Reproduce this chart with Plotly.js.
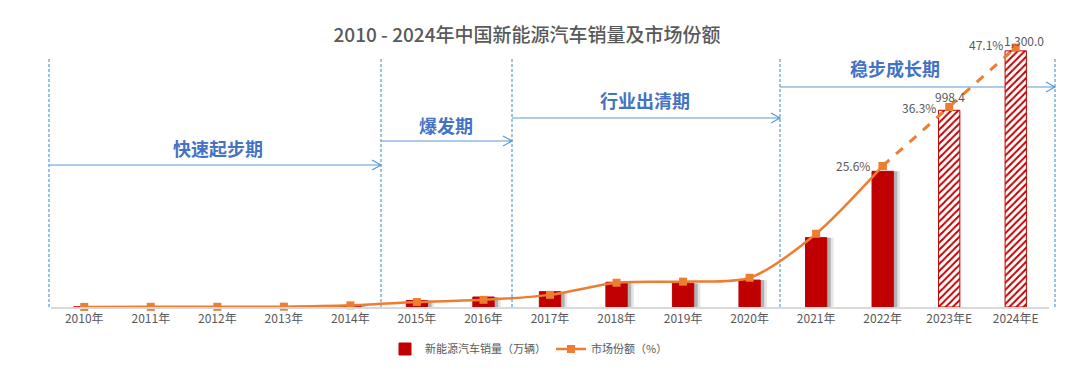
<!DOCTYPE html>
<html>
<head>
<meta charset="utf-8">
<script src="https://cdn.plot.ly/plotly-3.0.1.min.js"></script>
<style>html,body{margin:0;padding:0;background:#fff;}#chart{width:1080px;height:379px;}</style>
</head>
<body>
<div id="chart"></div>
<script>
// ---- data ----
const years = ['2010年','2011年','2012年','2013年','2014年','2015年','2016年','2017年','2018年','2019年','2020年','2021年','2022年','2023年E','2024年E'];
const sales = [0.5, 0.8, 1.3, 1.8, 7.5, 33.1, 50.7, 77.7, 125.6, 120.6, 136.7, 352.1, 688.7, 998.4, 1300.0];
const share = [0.02, 0.03, 0.04, 0.06, 0.3, 0.9, 1.3, 2.2, 4.4, 4.6, 5.3, 13.3, 25.6, 36.3, 47.1];
const isEstimate = [false,false,false,false,false,false,false,false,false,false,false,false,false,true,true];
const phaseNames = ['快速起步期', '爆发期', '行业出清期', '稳步成长期'];
const seriesNames = ['新能源汽车销量（万辆）', '市场份额（%）'];
const chartTitle = '2010 - 2024年中国新能源汽车销量及市场份额';

// ---- layout helpers (pixel geometry) ----
const W = 1080, H = 379;
const mL = 51, mR = 31, mT = 42, mB = 72;
const pw = W - mL - mR, ph = H - mT - mB;
const px2x = p => (p - mL) / pw;
const py2y = p => (H - mB - p) / ph;

const RED = '#C00000', ORANGE = '#ED7D31', BLUE = '#4472C4', LBLUE = '#5B9BD5', GREY = '#595959';
const FONT = '"Noto Sans CJK SC", "Noto Sans", sans-serif';

const lastActual = isEstimate.indexOf(true) - 1;

const shadowVals = sales.map((v, i) => isEstimate[i] ? null : v);
const solidShare = share.map((v, i) => i <= lastActual ? v : null);
const dashShare = share.map((v, i) => i >= lastActual ? v : null);

const traces = [
  {type: 'bar', x: years, y: shadowVals, yaxis: 'y', width: 0.3, offset: -0.04,
   marker: {color: 'rgba(0,0,0,0.10)'}, showlegend: false, hoverinfo: 'skip'},
  {type: 'bar', x: years, y: shadowVals, yaxis: 'y', width: 0.32, offset: -0.10,
   marker: {color: 'rgba(0,0,0,0.22)'}, showlegend: false, hoverinfo: 'skip'},
  {type: 'bar', x: years, y: sales, yaxis: 'y', name: seriesNames[0], width: 0.32, offset: -0.16,
   marker: {color: RED, line: {color: RED, width: 1},
     pattern: {shape: isEstimate.map(e => e ? '/' : ''), fgcolor: RED, bgcolor: '#ffffff', size: 5, solidity: 0.4, fillmode: 'replace'}}},
  {type: 'scatter', x: years, y: solidShare, yaxis: 'y2', name: seriesNames[1], mode: 'lines+markers',
   line: {color: ORANGE, width: 2.5, shape: 'spline', smoothing: 0.8}, connectgaps: false,
   marker: {symbol: 'square', size: 8, color: ORANGE}, cliponaxis: false},
  {type: 'scatter', x: years, y: dashShare, yaxis: 'y2', mode: 'lines+markers', showlegend: false,
   line: {color: ORANGE, width: 3, dash: 'dash'},
   marker: {symbol: 'square', size: 8, color: ORANGE}, cliponaxis: false}
];

// phase geometry (pixels)
const vlines = [49, 381, 512, 780, 1055];
const arrowY = [165, 141, 118, 87];
const labelY = [148, 125, 100, 68];
const labelX = [218, 446, 645, 895];

const shapes = [];
vlines.forEach(p => {
  shapes.push({type: 'line', xref: 'paper', yref: 'paper', x0: px2x(p), x1: px2x(p), y0: py2y(307), y1: py2y(57),
    line: {color: LBLUE, width: 1.2, dash: '3px,2px'}, layer: 'below'});
});
const annotations = [];
phaseNames.forEach((n, i) => {
  const x0 = px2x(vlines[i]), x1 = px2x(vlines[i + 1]), y = py2y(arrowY[i]);
  const dx = 9 / pw, dy = 5 / ph;
  shapes.push({type: 'path', xref: 'paper', yref: 'paper',
    path: `M ${x0},${y} L ${x1},${y} M ${x1 - dx},${y + dy} L ${x1},${y} L ${x1 - dx},${y - dy}`,
    line: {color: LBLUE, width: 1.2}, layer: 'below'});
  annotations.push({xref: 'paper', yref: 'paper', x: px2x(labelX[i]), y: py2y(labelY[i]), text: n, showarrow: false,
    xanchor: 'center', yanchor: 'middle', font: {family: FONT, size: 18, color: BLUE, weight: 'bold'}});
});

// value labels: estimated bar values, and share labels from last actual year on
const labelFont = {family: FONT, size: 12, color: GREY};
let estCount = 0;
years.forEach((yr, i) => {
  if (isEstimate[i]) {
    annotations.push({xref: 'x', yref: 'y', x: yr, y: sales[i], showarrow: false,
      text: sales[i].toLocaleString('en-US', {minimumFractionDigits: 1, maximumFractionDigits: 1}),
      xanchor: 'center', yanchor: 'bottom', xshift: estCount === 0 ? 1 : 8, yshift: estCount === 0 ? 3 : 0, font: labelFont});
    estCount++;
  }
  if (i >= lastActual) {
    annotations.push({xref: 'x', yref: 'y2', x: yr, y: share[i], showarrow: false,
      text: share[i].toFixed(1) + '%', xanchor: 'right', yanchor: 'middle', xshift: -11,
      yshift: i === years.length - 1 ? 3 : 0, font: labelFont});
  }
});

const layout = {
  width: W, height: H,
  margin: {l: mL, r: mR, t: mT, b: mB, pad: 0},
  paper_bgcolor: '#ffffff', plot_bgcolor: 'rgba(0,0,0,0)',
  barmode: 'overlay',
  title: {text: chartTitle, xref: 'container', yref: 'container', x: 527 / W, y: 1 - 35 / H,
    xanchor: 'center', yanchor: 'middle', font: {family: FONT, size: 19, color: GREY, weight: 500}},
  xaxis: {type: 'category', showline: true, linecolor: '#D9D9D9', linewidth: 2, ticks: '', showgrid: false,
    tickfont: {family: FONT, size: 12, color: GREY}, range: [-0.5, 14.5], fixedrange: true},
  yaxis: {range: [0, 1345], visible: false, showgrid: false, zeroline: false},
  yaxis2: {range: [0, 48.1], overlaying: 'y', side: 'right', visible: false, showgrid: false, zeroline: false},
  legend: {orientation: 'h', x: px2x(529), xanchor: 'center', y: py2y(349), yanchor: 'middle',
    font: {family: FONT, size: 11, color: GREY}, itemwidth: 30, bgcolor: 'rgba(0,0,0,0)'},
  shapes: shapes,
  annotations: annotations,
  showlegend: true
};

Plotly.newPlot('chart', traces, layout, {staticPlot: true, displayModeBar: false});
</script>
</body>
</html>
